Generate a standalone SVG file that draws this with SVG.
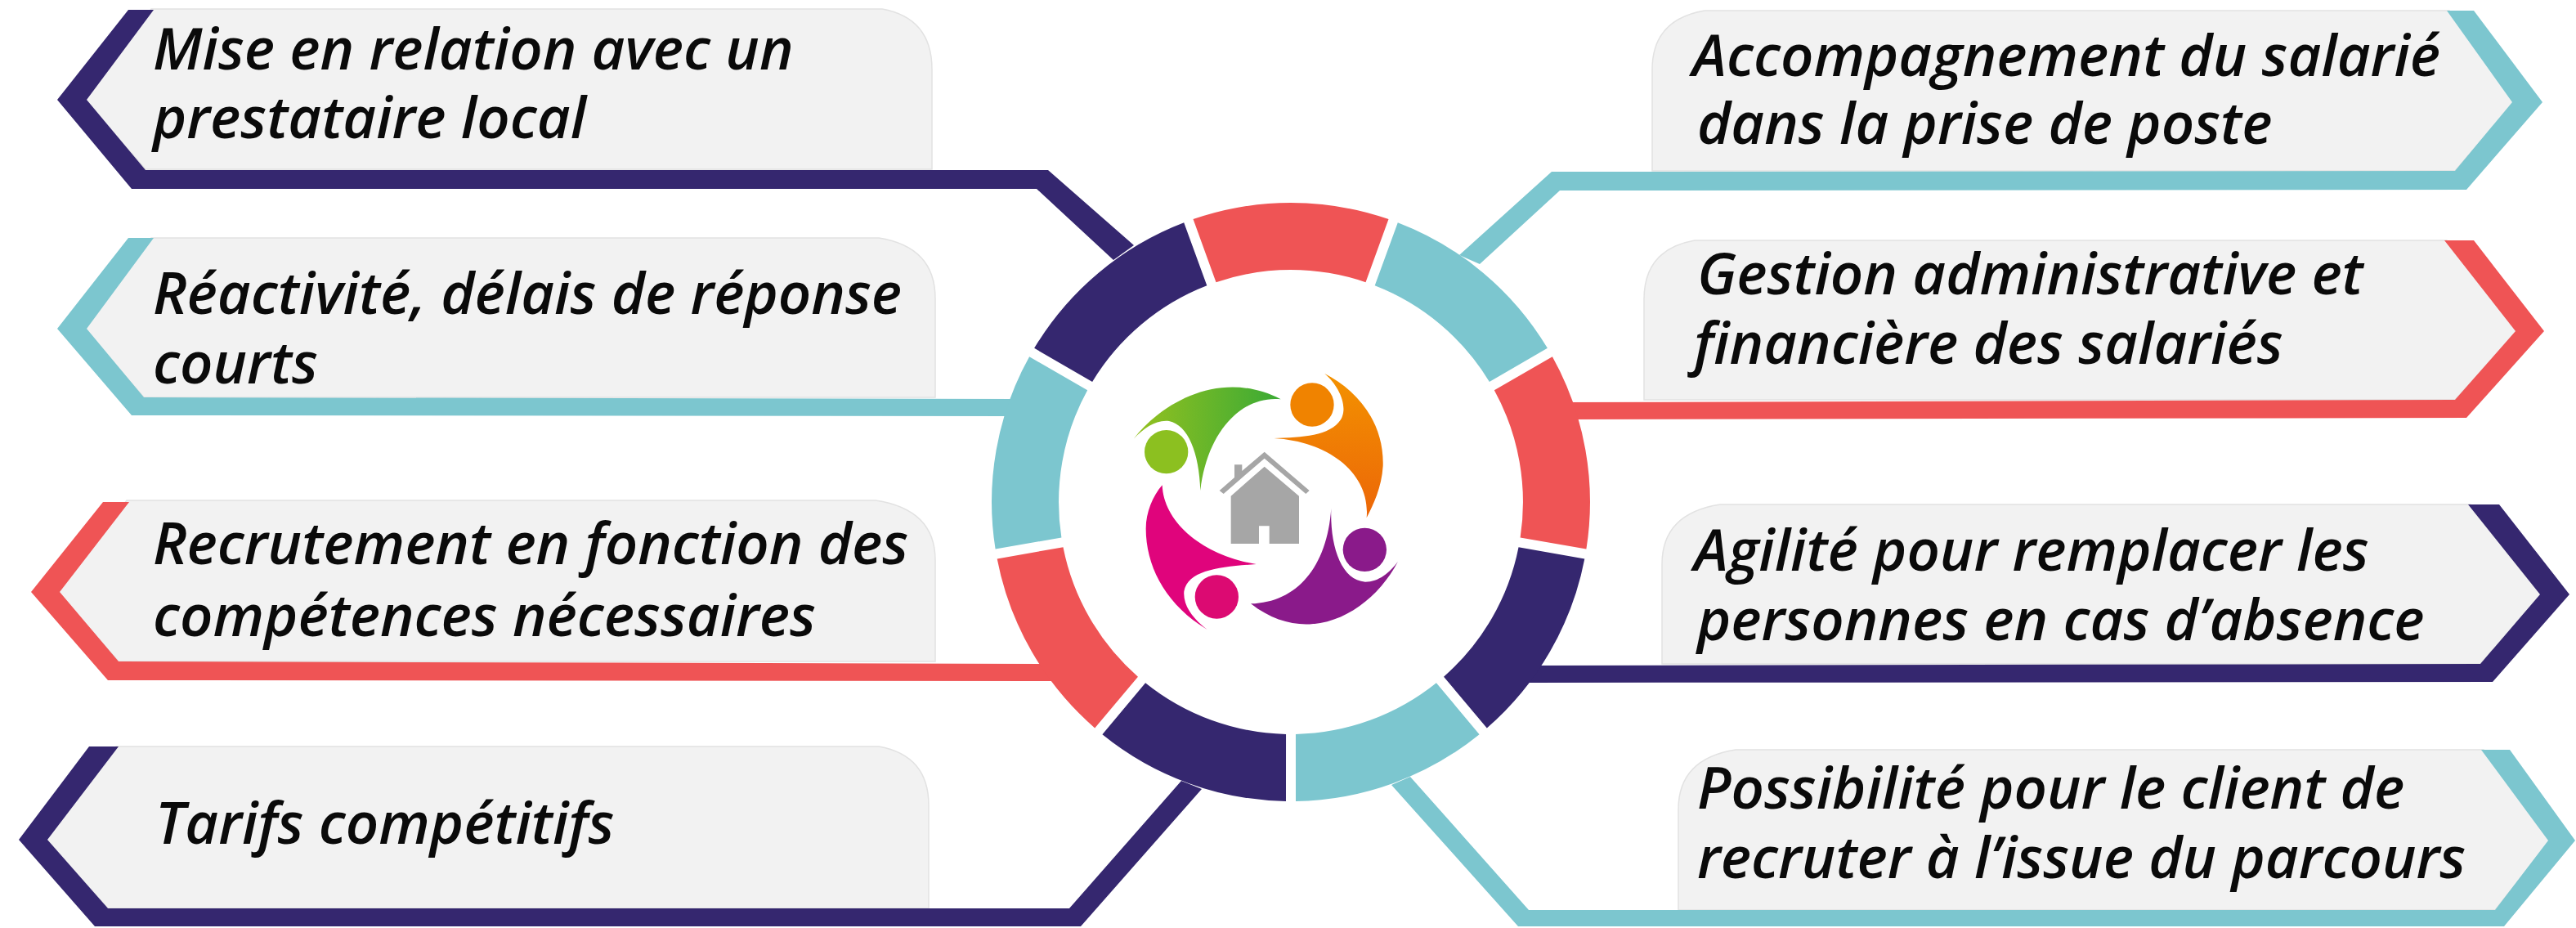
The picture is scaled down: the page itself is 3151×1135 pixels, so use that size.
<svg xmlns="http://www.w3.org/2000/svg" width="3151" height="1135" viewBox="0 0 3151 1135">
<style>
.card{fill:#f2f2f2;stroke:#e2e2e2;stroke-width:1.5}
.t{font-family:"Open Sans","Noto Sans","DejaVu Sans",sans-serif;font-style:italic;font-weight:600;font-size:70.5px;fill:#0a0a0a}
.navy{fill:#35276f}.teal{fill:#7cc6cf}.red{fill:#ef5455}
</style>
<defs>
<path id="seg" d="M-119.5,-345.9A366,366 0 0 1 119.5,-345.9L91.5,-268.8A284,284 0 0 0 -91.5,-268.8Z"/>
<linearGradient id="gG" x1="0" x2="1" y1="0" y2="0"><stop offset="0" stop-color="#95c11f"/><stop offset="1" stop-color="#3aaa35"/></linearGradient>
<linearGradient id="gO" x1="0" x2="0" y1="0" y2="1"><stop offset="0" stop-color="#f39200"/><stop offset="1" stop-color="#ec6608"/></linearGradient>
</defs>
<rect width="3151" height="1135" fill="#ffffff"/>
<g id="node-l1"><path class="card" d="M185,11H1079Q1140,22 1140,85V207H178L103,122Z"/><text class="t" x="187" y="85">Mise en relation avec un</text><text class="t" x="187" y="169">prestataire local</text></g>
<g id="node-l2"><path class="card" d="M185,291H1075Q1144,302 1144,365V486H176L103,402Z"/><text class="t" x="187" y="384">Réactivité, délais de réponse</text><text class="t" x="187" y="469">courts</text></g>
<g id="node-l3"><path class="card" d="M155,612H1071Q1144,623 1144,685V809H145L70,724Z"/><text class="t" x="187" y="690">Recrutement en fonction des</text><text class="t" x="187" y="778">compétences nécessaires</text></g>
<g id="node-l4"><path class="card" d="M142,913H1075Q1136,924 1136,985V1111H132L55,1027Z"/><text class="t" x="190" y="1032">Tarifs compétitifs</text></g>
<g id="node-r1"><path class="card" d="M2996,13H2085Q2021,24 2021,85V209H3003L3076,125Z"/><text class="t" x="2070" y="93">Accompagnement du salarié</text><text class="t" x="2076" y="176">dans la prise de poste</text></g>
<g id="node-r2"><path class="card" d="M2993,294H2073Q2011,305 2011,366V489H3003L3080,405Z"/><text class="t" x="2076" y="360">Gestion administrative et</text><text class="t" x="2072" y="445">financière des salariés</text></g>
<g id="node-r3"><path class="card" d="M3022,617H2104Q2033,628 2033,690V812H3034L3110,727Z"/><text class="t" x="2072" y="698">Agilité pour remplacer les</text><text class="t" x="2076" y="783">personnes en cas d’absence</text></g>
<g id="node-r4"><path class="card" d="M3038,917H2123Q2053,928 2053,990V1113H3052L3120,1028Z"/><text class="t" x="2076" y="989">Possibilité pour le client de</text><text class="t" x="2076" y="1074">recruter à l’issue du parcours</text></g>
<g id="connectors">
<polygon class="navy" points="157,12 188,12 106,122 178,208 1282,208 1387,300 1362,318 1268,231 161,231 70,122"/>
<polygon class="teal" points="157,291 188,291 106,402 176,486 1240,488 1240,509 161,508 70,402"/>
<polygon class="red" points="126,614 158,614 73,724 145,809 1290,812 1290,833 132,832 38,724"/>
<polygon class="navy" points="109,913 145,913 58,1027 132,1111 1308,1111 1445,955 1470,965 1322,1133 116,1133 23,1027"/>
<polygon class="teal" points="3026,13 2993,13 3073,125 3003,209 1898,210 1785,312 1810,323 1908,233 3017,232 3110,125"/>
<polygon class="red" points="3026,294 2990,294 3077,405 3003,489 1910,492 1910,513 3017,511 3112,405"/>
<polygon class="navy" points="3057,617 3019,617 3107,727 3034,812 1870,814 1870,835 3049,834 3143,727"/>
<polygon class="teal" points="3070,917 3035,917 3117,1028 3052,1113 1870,1113 1725,950 1702,960 1857,1133 3063,1133 3150,1028"/>
</g>
<g id="ring">
<use href="#seg" class="red" transform="translate(1579,614)"/>
<use href="#seg" class="teal" transform="translate(1579,614) rotate(40)"/>
<use href="#seg" class="red" transform="translate(1579,614) rotate(80)"/>
<use href="#seg" class="navy" transform="translate(1579,614) rotate(120)"/>
<use href="#seg" class="teal" transform="translate(1579,614) rotate(160)"/>
<use href="#seg" class="navy" transform="translate(1579,614) rotate(200)"/>
<use href="#seg" class="red" transform="translate(1579,614) rotate(240)"/>
<use href="#seg" class="teal" transform="translate(1579,614) rotate(280)"/>
<use href="#seg" class="navy" transform="translate(1579,614) rotate(320)"/>
</g>
<g id="logo" transform="translate(1360,440) scale(0.33333)">
<path fill="url(#gG)" d="M80,290C180,160 400,30 620,145C480,130 350,260 325,480C320,340 280,240 210,225C160,220 120,250 80,290Z"/>
<circle cx="200" cy="338" r="80" fill="#8cc020"/>
<path fill="url(#gO)" d="M780,50C900,110 1000,230 995,390C990,470 960,530 935,580C950,420 800,300 595,288C700,285 800,280 840,220C870,170 830,90 780,50Z"/>
<circle cx="735" cy="165" r="80" fill="#f08300"/>
<path fill="#8a1a8a" d="M1050,740C950,930 720,1060 510,895C680,890 790,760 805,545C800,680 840,810 930,815C980,815 1020,780 1050,740Z"/>
<circle cx="928" cy="697" r="80" fill="#8a1a8a"/>
<path fill="#e0047c" d="M350,990C200,900 125,760 125,620C125,560 150,500 185,460C190,600 340,720 530,750C400,760 280,770 265,850C260,910 310,960 350,990Z"/>
<circle cx="385" cy="870" r="80" fill="#dc0a72"/>
<path fill="#a6a6a6" d="M395,480L450,432V385H478V408L560,338L725,480L712,492L560,362L410,492Z"/>
<path fill="#a6a6a6" d="M437,500L560,392L687,500V675H578V610H540V675H437Z"/>
</g>
</svg>
